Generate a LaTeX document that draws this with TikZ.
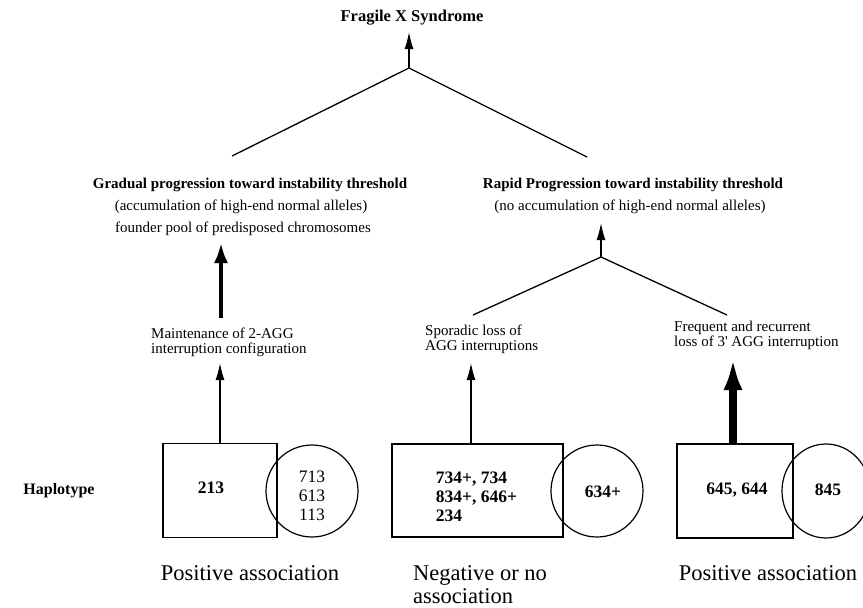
\documentclass[tikz,border=0pt]{standalone}
\usepackage{fontspec}
\setmainfont{Liberation Serif}
\usetikzlibrary{arrows.meta,shapes.geometric}
\begin{document}
\begin{tikzpicture}[x=1pt,y=-1pt,
  txt/.style={inner sep=0pt, font=\fontsize{15}{15.5}\selectfont},
  hbold/.style={inner sep=0pt, font=\fontsize{15}{18}\selectfont\bfseries},
  numb/.style={inner sep=0pt, font=\fontsize{17.5}{19}\selectfont\bfseries},
  numr/.style={inner sep=0pt, font=\fontsize{17.5}{19}\selectfont},
  big/.style={inner sep=0pt, font=\fontsize{22.5}{24}\selectfont},
  plain/.style={line width=1.3pt},
  hapbox/.style={draw, line width=1.3pt, inner sep=0pt},
  hapcirc/.style={draw, circle, line width=1.2pt, inner sep=0pt},
  arrowthin/.style={line width=1.4pt, -{Latex[length=17pt,width=9pt]}},
  arrowmid/.style={line width=3.5pt, -{Latex[length=20pt,width=14pt]}},
  arrowfat/.style={line width=8pt, -{Latex[length=32pt,width=19pt]}}]
\useasboundingbox (0,0) rectangle (863,608);
\clip (0,0) rectangle (863,608);

% title
\node[inner sep=0pt, font=\fontsize{16.5}{20}\selectfont\bfseries] (title) at (412,18) {Fragile X Syndrome};
\coordinate (apex) at (409,68);
\coordinate (tip0) at (409,32);
\coordinate (lend) at (232,156);
\coordinate (rend) at (587,157);
\draw[arrowthin] (apex) -- (tip0);
\draw[plain] (lend) -- (apex) -- (rend);

% left heading
\node[hbold] (grad) at (250,185) {Gradual progression toward instability threshold};
\node[txt] (accum) at (241,207) {(accumulation of high-end normal alleles)};
\node[txt] (founder) at (243,229) {founder pool of predisposed chromosomes};

% right heading
\node[hbold] (rapid) at (633,185) {Rapid Progression toward instability threshold};
\node[txt] (noaccum) at (630,207) {(no accumulation of high-end normal alleles)};
\coordinate (apex2) at (601,257);
\coordinate (tip5) at (601,223);
\coordinate (lend2) at (473,315);
\coordinate (rend2) at (727,315);
\draw[arrowthin] (apex2) -- (tip5);
\draw[plain] (lend2) -- (apex2) -- (rend2);

% mechanism labels
\node[txt, align=left, anchor=west] (maint) at (151,342.5) {Maintenance of 2-AGG\\interruption configuration};
\node[txt, align=left, anchor=west] (spor) at (425,339.5) {Sporadic loss of\\AGG interruptions};
\node[txt, align=left, anchor=west] (freq) at (674,335.5) {Frequent and recurrent\\loss of 3\textquotesingle{} AGG interruption};

\coordinate (m1) at (221,318);
\coordinate (t1) at (221,243);
\draw[arrowmid] (m1) -- (t1);

% haplotype row
\node[inner sep=0pt, font=\fontsize{16}{18}\selectfont\bfseries] (hap) at (59,491) {Haplotype};

\node[hapbox, minimum width=114pt, minimum height=94pt] (box1) at (220,490.5) {};
\node[numb] (b1txt) at (211,488) {213};
\node[hapcirc, minimum size=92pt] (c1) at (312,491) {};
\node[numr, align=center] (c1txt) at (312,496) {713\\613\\113};

\node[hapbox, minimum width=171pt, minimum height=93pt] (box2) at (477.5,490.5) {};
\node[numb, align=left] (b2txt) at (476.5,497) {734+, 734\\834+, 646+\\234};
\node[hapcirc, minimum size=92pt] (c2) at (597,491) {};
\node[numb] (c2txt) at (603,492) {634+};

\node[hapbox, minimum width=116pt, minimum height=94pt] (box3) at (735,491) {};
\node[numb] (b3txt) at (737,490) {645, 644};
\node[draw, ellipse, line width=1.2pt, inner sep=0pt, minimum width=88pt, minimum height=94pt] (c3) at (826,491) {};
\node[numb] (c3txt) at (828,490) {845};

% arrows from boxes
\coordinate (t2) at (220,363);
\draw[arrowthin] (box1.north) -- (t2);
\coordinate (b2a) at (471,444);
\coordinate (t3) at (471,363);
\draw[arrowthin] (b2a) -- (t3);
\coordinate (b3a) at (733,444);
\coordinate (t4) at (733,358);
\draw[arrowfat] (b3a) -- (t4);

% association labels
\node[big, anchor=base] (pos1) at (250,580) {Positive association};
\node[big, anchor=base west] (neg1) at (413,580) {Negative or no};
\node[big, anchor=base west] (neg2) at (413,603.5) {association};
\node[big, anchor=base] (pos2) at (768,580) {Positive association};
\end{tikzpicture}
\end{document}
